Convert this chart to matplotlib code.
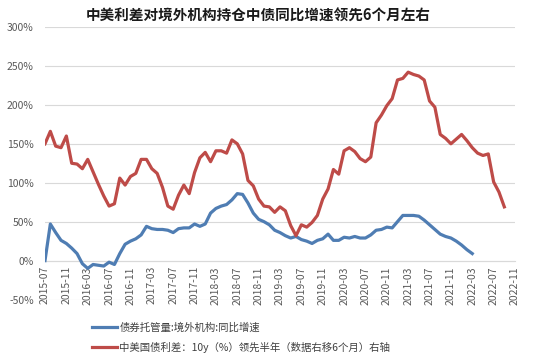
import matplotlib
matplotlib.use("Agg")
import matplotlib.pyplot as plt
import pandas as pd

plt.rcParams["font.family"] = ["Noto Sans CJK SC", "DejaVu Sans"]

title = "中美利差对境外机构持仓中债同比增速领先6个月左右"
label_blue = "债券托管量:境外机构:同比增速"
label_red = "中美国债利差：10y（%）领先半年（数据右移6个月）右轴"

# monthly axis 2015-07 .. 2022-11
months = pd.period_range("2015-07", "2022-11", freq="M").strftime("%Y-%m").tolist()

# 债券托管量 境外机构 同比 (%), 2015-07 .. 2022-03
blue = [0, 47, 36, 26, 22, 16, 9, -4, -10, -5,
        -6, -7, -2, -5, 9, 21, 25, 28, 33, 44,
        41, 40, 40, 39, 36, 41, 42, 42, 47, 44,
        47, 61, 67, 70, 72, 78, 86, 85, 74, 61,
        53, 50, 46, 39, 36, 32, 29, 31, 27, 25,
        22, 26, 28, 34, 26, 26, 30, 29, 31, 29,
        29, 33, 39, 40, 43, 42, 50, 58, 58, 58,
        57, 52, 46, 40, 34, 31, 29, 25, 20, 14, 9]

# 中美国债利差 10y, shifted 6 months, drawn on the same scale (x100), 2015-07 .. 2022-09
red = [150, 166, 147, 145, 160, 125, 124, 118, 130, 114,
       98, 83, 70, 73, 106, 97, 108, 112, 130, 130,
       118, 112, 94, 70, 66, 84, 97, 86, 113, 132,
       139, 127, 141, 141, 138, 155, 150, 137, 103, 96,
       79, 70, 69, 62, 69, 64, 45, 32, 46, 43,
       49, 58, 79, 92, 117, 111, 141, 145, 140, 131,
       127, 133, 177, 187, 199, 208, 232, 234, 242, 239,
       237, 232, 205, 197, 162, 157, 150, 156, 162, 154,
       145, 138, 135, 137, 101, 88, 69]

y_ticks = [-50, 0, 50, 100, 150, 200, 250, 300]

fig = plt.figure(figsize=(5.33, 3.63), dpi=100)
ax = fig.add_axes([45 / 533, 1 - 300 / 363, 470 / 533, 273 / 363])

ax.plot(range(len(blue)), blue, color="#4f7db3", lw=2.3, solid_joinstyle="round", zorder=3)
ax.plot(range(len(red)), red, color="#be4b48", lw=2.3, solid_joinstyle="round", zorder=3)

ax.set_xlim(0, len(months) - 1)
ax.set_ylim(-50.6, 300)
ax.set_yticks(y_ticks)
ax.set_yticklabels([f"{v}%" for v in y_ticks])
ax.yaxis.grid(True, color="#d9d9d9", lw=0.8)
ax.set_axisbelow(True)

xt = list(range(0, len(months), 4))
ax.set_xticks(xt)
ax.set_xticklabels([months[i] for i in xt])

for s in ("top", "right", "left"):
    ax.spines[s].set_visible(False)
ax.spines["bottom"].set_position(("data", 0))
ax.spines["bottom"].set_color("#d9d9d9")
ax.tick_params(axis="both", length=0, labelsize=7.5, colors="#595959")
ax.tick_params(axis="x", pad=4, labelrotation=90)
ax.tick_params(axis="y", pad=8)

fig.text(0.485, 0.957, title, ha="center", va="center", fontsize=10.5,
         fontweight="bold", color="#1a1a1a")

handles = [plt.Line2D([], [], color="#4f7db3", lw=2.3),
           plt.Line2D([], [], color="#be4b48", lw=2.3)]
fig.legend(handles, [label_blue, label_red], loc="upper left",
           bbox_to_anchor=(83 / 533, 1 - 313 / 363), frameon=False,
           fontsize=7.5, handlelength=2.4, handletextpad=0.2,
           labelspacing=0.85, labelcolor="#404040")

fig.savefig("out.png", dpi=100)
